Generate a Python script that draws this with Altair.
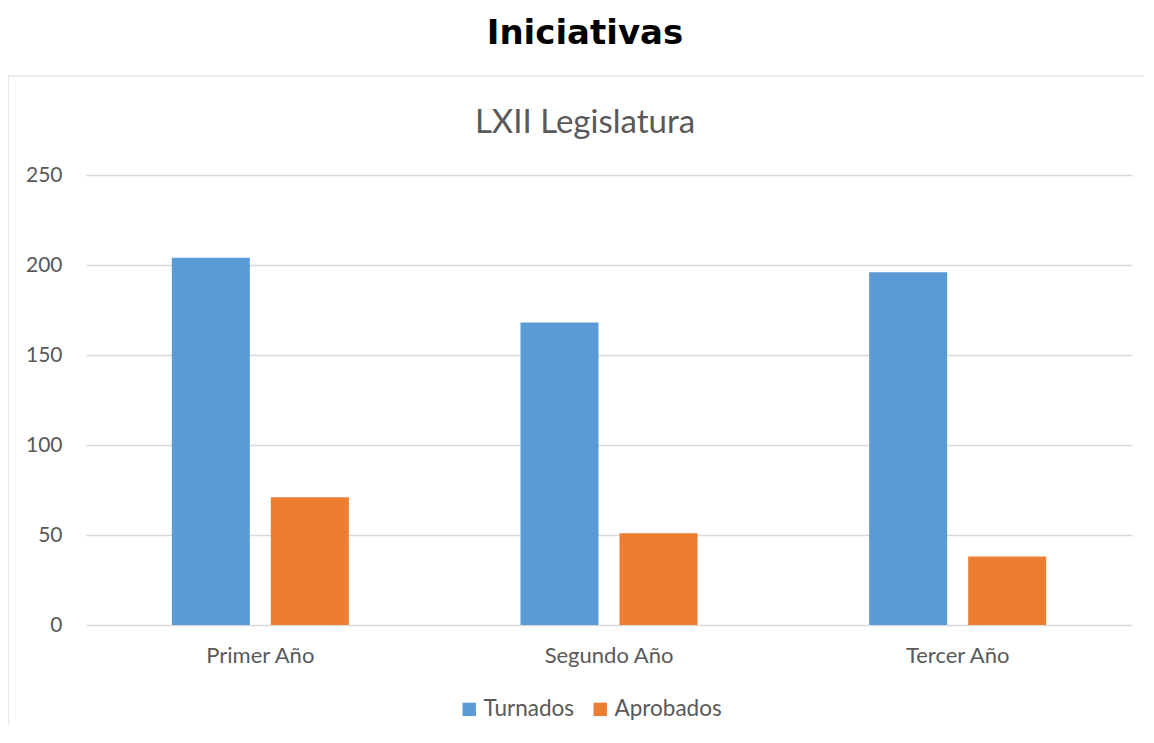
import altair as alt
import pandas as pd

categories = ["Primer Año", "Segundo Año", "Tercer Año"]
series = ["Turnados", "Aprobados"]
turnados = [204, 168, 196]
aprobados = [71, 51, 38]
colors = ["#5b9bd5", "#ed7d31"]
main_title = "Iniciativas"
sub_title = "LXII Legislatura"

rows = []
for c, t, a in zip(categories, turnados, aprobados):
    rows.append({"Año": c, "Serie": "Turnados", "Valor": t})
    rows.append({"Año": c, "Serie": "Aprobados", "Valor": a})
df = pd.DataFrame(rows)

W, H = 1046, 450
PAD_R, PAD_B = 12, 100

bars = alt.Chart(df).mark_bar().encode(
    x=alt.X("Año:N", sort=categories, title=None,
            scale=alt.Scale(paddingInner=0, paddingOuter=0),
            axis=alt.Axis(labelAngle=0, labelFont="Lato", labelFontSize=22,
                          labelColor="#595959", labelPadding=20, ticks=False,
                          domain=False, grid=False)),
    xOffset=alt.XOffset("Serie:N", sort=series,
                        scale=alt.Scale(paddingInner=0.212, paddingOuter=0.867)),
    y=alt.Y("Valor:Q", title=None,
            scale=alt.Scale(domain=[0, 250]),
            axis=alt.Axis(values=[0, 50, 100, 150, 200, 250], labelFont="Lato",
                          labelFontSize=21, labelColor="#595959", labelPadding=24,
                          ticks=False, domain=False, grid=True,
                          gridColor="#d9d9d9", gridWidth=1.5)),
    color=alt.Color("Serie:N", sort=series,
                    scale=alt.Scale(domain=series, range=colors),
                    legend=alt.Legend(orient="none", legendX=372, legendY=523,
                                      direction="horizontal", title=None,
                                      symbolType="square", symbolSize=180,
                                      symbolStrokeWidth=0,
                                      labelFont="Lato", labelFontSize=22.5,
                                      labelColor="#595959", columnPadding=14,
                                      labelOffset=3)),
)

frame_src = pd.DataFrame({"k": [0]})
frame_left = alt.Chart(frame_src).mark_rule(
    stroke="#d9d9d9", strokeWidth=1.2, clip=False
).encode(x=alt.value(-78), x2=alt.value(-78), y=alt.value(-99), y2=alt.value(H + PAD_B))
frame_top = alt.Chart(frame_src).mark_rule(
    stroke="#d9d9d9", strokeWidth=1.2, clip=False
).encode(x=alt.value(-78), x2=alt.value(W + PAD_R), y=alt.value(-99), y2=alt.value(-99))

t1 = alt.Chart(pd.DataFrame({"t": [main_title]})).mark_text(
    font="DejaVu Sans", fontWeight="bold", fontSize=34, color="#000000",
    align="center", baseline="alphabetic"
).encode(text="t:N", x=alt.value(499), y=alt.value(-131))

t2 = alt.Chart(pd.DataFrame({"t": [sub_title]})).mark_text(
    font="Lato", fontSize=33, color="#595959", align="center", baseline="alphabetic"
).encode(text="t:N", x=alt.value(499), y=alt.value(-42))

chart = alt.layer(frame_left, frame_top, bars, t1, t2).properties(
    width=W, height=H,
    autosize=alt.AutoSizeParams(type="none"),
    padding={"left": 78, "top": 167, "right": PAD_R, "bottom": PAD_B},
).configure(background="white").configure_view(stroke=None)

chart.save("out.html", embed_options={"renderer": "svg", "actions": False})
